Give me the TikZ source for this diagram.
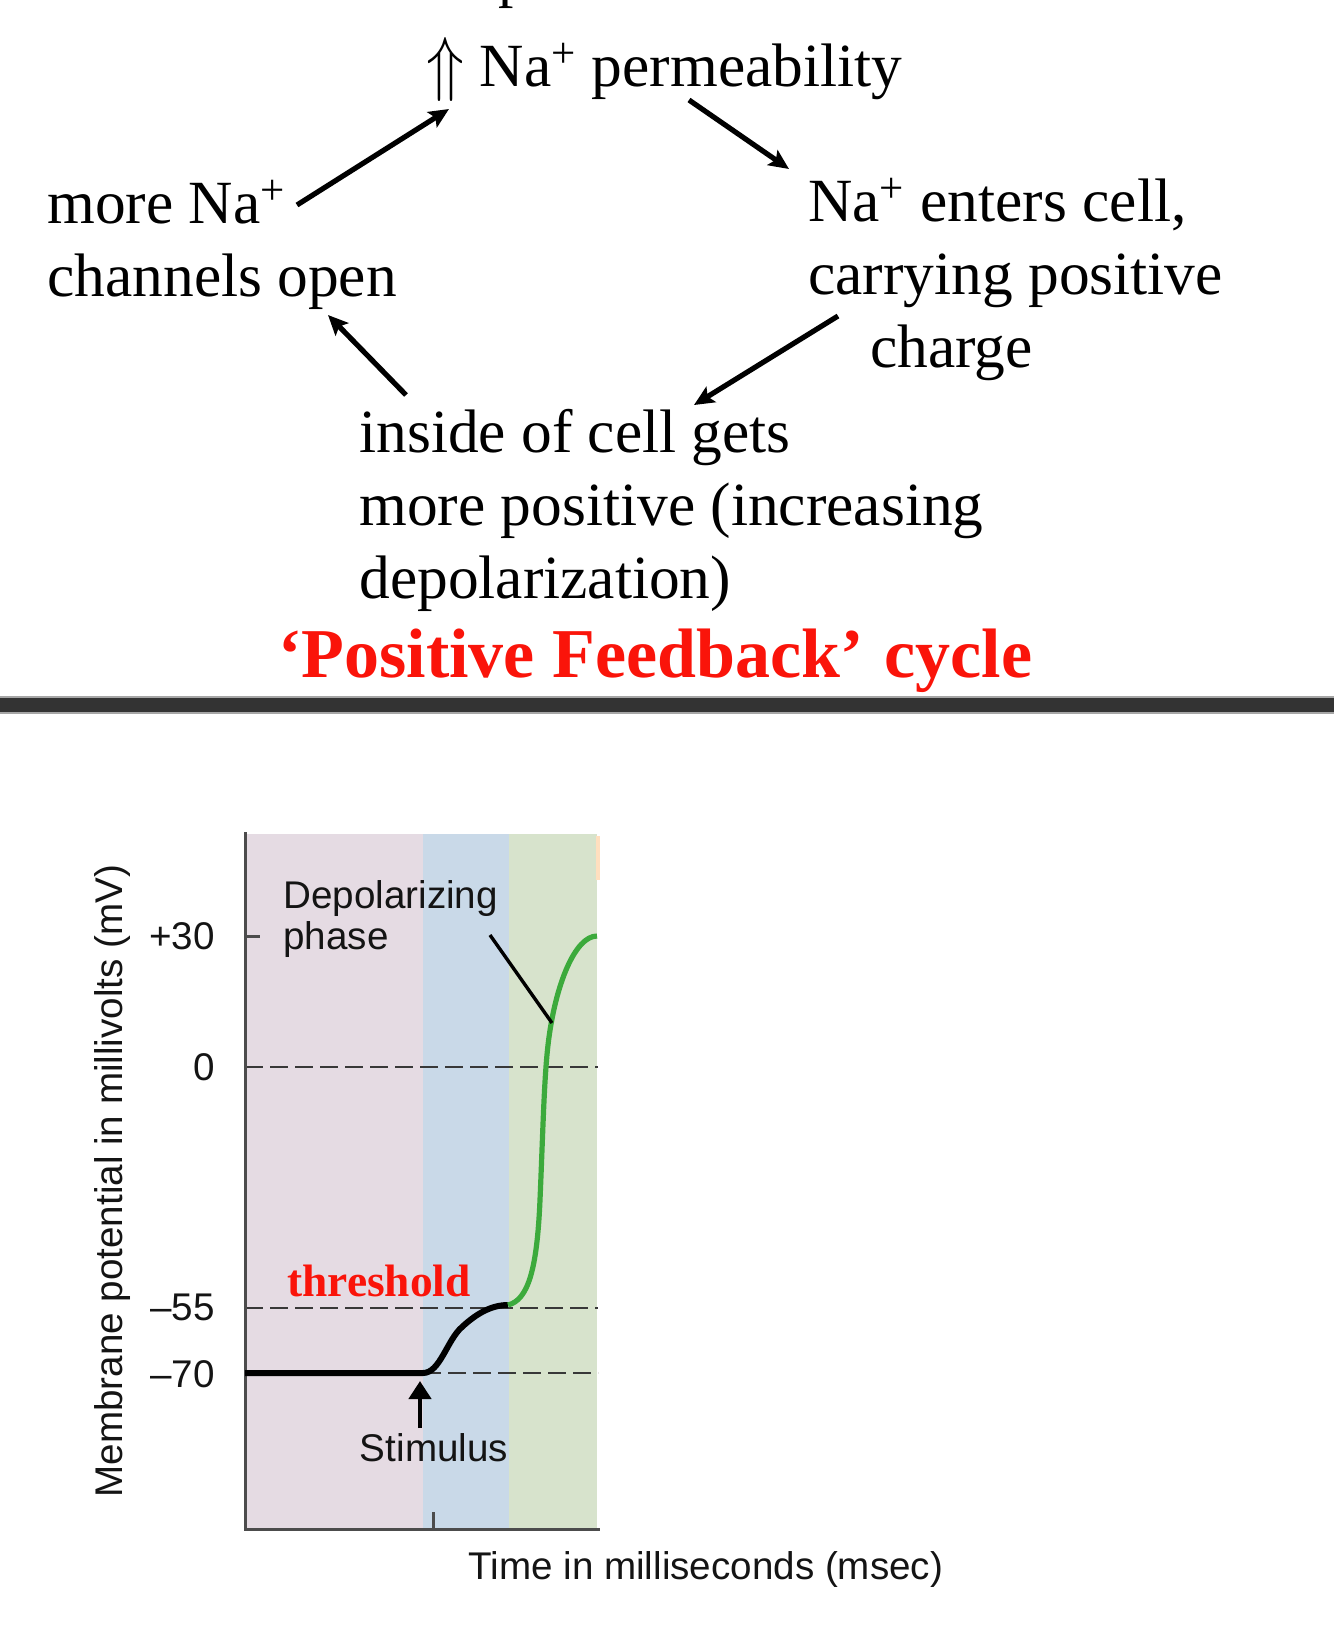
\documentclass[tikz,border=0pt]{standalone}
\usepackage{graphicx}
\usepackage{fontspec}
\setmainfont{Liberation Serif}
\setsansfont{Liberation Sans}
\usetikzlibrary{arrows.meta}

\definecolor{phaseA}{RGB}{229,219,227}
\definecolor{phaseB}{RGB}{201,217,232}
\definecolor{phaseC}{RGB}{215,227,204}
\definecolor{spikegreen}{RGB}{60,170,60}
\definecolor{titlered}{RGB}{250,20,10}

\begin{document}
\begin{tikzpicture}[x=0.5pt, y=-0.5pt,
    cycletext/.style={font=\fontsize{30.7}{36.5}\selectfont, align=left, inner sep=0pt, anchor=base west},
    graphtext/.style={font=\sffamily\fontsize{19.3}{20.5}\selectfont, text=black!92, inner sep=0pt},
    cyclearrow/.style={-{Stealth[length=10pt, width=9pt, inset=2pt]}, line width=2.6pt},
    level/.style={black!78, line width=1.4pt, dash pattern=on 9pt off 3.5pt},
    axisline/.style={black!70, line width=1.5pt}]
        \useasboundingbox (0,0) rectangle (1334,1630);
        \begin{scope}
            \clip (0,0) rectangle (1334,1630);
            \node[cycletext] (cut) at (498,-5) {p};
        \end{scope}

        % feedback cycle (base = last line)
        \node[cycletext] (perm) at (426,86) {\raisebox{-0.5pt}{\scalebox{1.25}[1.45]{$\Uparrow$}} Na\textsuperscript{+} permeability};
        \node[cycletext] (chan) at (47,296) {more Na\textsuperscript{+}\\channels open};
        \node[cycletext] (enter) at (808,367) {Na\textsuperscript{+} enters cell,\\carrying positive\\\hspace*{31pt}charge};
        \node[cycletext] (inside) at (359,598) {inside of cell gets\\more positive (increasing\\depolarization)};
        \node[font=\bfseries\fontsize{35}{40}\selectfont, text=titlered, inner sep=0pt, anchor=base west] (title) at (278,677) {‘Positive Feedback’\hspace{0.3em}cycle};

        \coordinate (chan-out) at (297,205);
        \coordinate (perm-in) at (449,109);
        \coordinate (perm-out) at (689,100);
        \coordinate (enter-in) at (789,169);
        \coordinate (enter-out) at (838,316);
        \coordinate (inside-in) at (694,405);
        \coordinate (inside-out) at (406,395);
        \coordinate (chan-in) at (328,315);
        \draw[cyclearrow] (chan-out) -- (perm-in);
        \draw[cyclearrow] (perm-out) -- (enter-in);
        \draw[cyclearrow] (enter-out) -- (inside-in);
        \draw[cyclearrow] (inside-out) -- (chan-in);

        \fill[black!80] (0,697) rectangle (1334,713);
        \draw[black!35, line width=0.6pt] (0,697) -- (1334,697) (0,713) -- (1334,713);

        % action potential graph
        \fill[phaseA] (245,834) rectangle (423,1529);
        \fill[phaseB] (423,834) rectangle (509,1529);
        \fill[phaseC] (509,834) rectangle (597,1529);
        \fill[orange!25] (596,836) rectangle (600,880);

        \draw[level] (245,1067) -- (598,1067);
        \draw[level] (245,1308) -- (598,1308);
        \draw[level] (423,1373) -- (598,1373);

        \draw[axisline] (245,832) -- (245,1529) -- (600,1529);
        \draw[axisline] (245,936) -- (260,936);
        \draw[axisline] (433,1512) -- (433,1529);

        \node[graphtext, anchor=east] (lab30) at (215,936) {+30};
        \node[graphtext, anchor=east] (lab0) at (215,1067) {0};
        \node[graphtext, anchor=east] (lab55) at (215,1307) {–55};
        \node[graphtext, anchor=east] (lab70) at (215,1374) {–70};
        \node[graphtext, rotate=90] (mv) at (113,1181) {Membrane potential in millivolts (mV)};
        \node[graphtext, anchor=base west] (time) at (468,1579) {Time in milliseconds (msec)};

        \draw[line width=3pt] (245,1373) -- (423,1373) .. controls (440,1373) and (447,1340) .. (462,1327)
            .. controls (477,1313) and (492,1305) .. (508,1305);
        \draw[spikegreen, line width=2.6pt] (508,1305) .. controls (528,1300) and (537,1270) .. (540,1200)
            .. controls (543,1130) and (544,1080) .. (548,1045) .. controls (555,985) and (575,936) .. (597,936);

        \node[graphtext, align=left, anchor=base west] (depol) at (283,949) {Depolarizing\\phase};
        \coordinate (depol-tail) at (490,935);
        \coordinate (spike-mid) at (552,1023);
        \draw[line width=1.7pt] (depol-tail) -- (spike-mid);

        \node[graphtext, anchor=base] (stim) at (434,1461) {Stimulus};
        \coordinate (stim-tail) at (420,1428);
        \coordinate (stim-tip) at (420,1381);
        \draw[-{Triangle[length=9pt, width=11pt]}, line width=2.2pt] (stim-tail) -- (stim-tip);

        \node[font=\bfseries\fontsize{22.7}{25}\selectfont, text=titlered, inner sep=0pt, anchor=base west] (thr) at (287,1296) {threshold};
\end{tikzpicture}
\end{document}
